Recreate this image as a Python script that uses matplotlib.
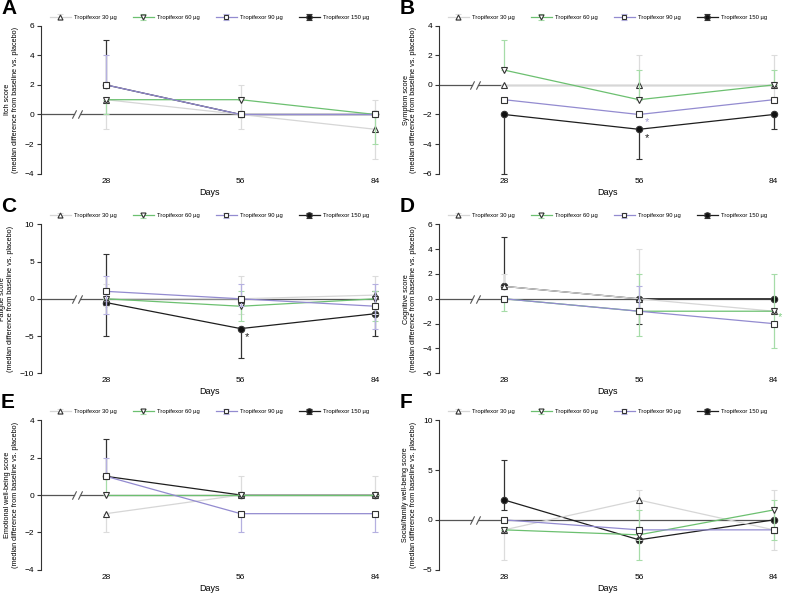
import numpy as np
import matplotlib
matplotlib.use('Agg')
import matplotlib.pyplot as plt

plt.rcParams['font.family'] = ['Liberation Sans', 'DejaVu Sans']

# data (median difference from baseline vs. placebo), order: 30, 60, 90, 150 ug
days = [28, 56, 84]
doses = ['Tropifexor 30 µg', 'Tropifexor 60 µg', 'Tropifexor 90 µg', 'Tropifexor 150 µg']

itch_med = [[1, 0, -1], [1, 1, 0], [2, 0, 0], [2, 0, 0]]
itch_lo = [[-1, -1, -3], [0, 1, -2], [2, 0, 0], [2, 0, 0]]
itch_hi = [[1, 2, 1], [1, 1, 0], [4, 0, 0], [5, 0, 0]]

symptom_med = [[0, 0, 0], [1, -1, 0], [-1, -2, -1], [-2, -3, -2]]
symptom_lo = [[0, -1, -1], [1, -1, 0], [-1, -2, -1], [-6, -5, -3]]
symptom_hi = [[0, 2, 2], [3, 1, 1], [-1, -2, -1], [-2, -3, -2]]

fatigue_med = [[0, 0, 0.5], [0, -1, 0], [1, 0, -1], [-0.5, -4, -2]]
fatigue_lo = [[-1, -2, -2], [0, -3, -3], [-2, -1, -4], [-5, -8, -5]]
fatigue_hi = [[2, 3, 3], [0, 1, 1], [3, 2, 2], [6, -4, 1]]

cognitive_med = [[1, 0, -1], [0, -1, -1], [0, -1, -2], [1, 0, 0]]
cognitive_lo = [[1, -1, -1], [-1, -3, -4], [0, -1, -2], [1, -2, 0]]
cognitive_hi = [[2, 4, -1], [0, 2, 2], [0, 1, -2], [5, 0, 0]]

emotional_med = [[-1, 0, 0], [0, 0, 0], [1, -1, -1], [1, 0, 0]]
emotional_lo = [[-2, 0, 0], [0, 0, 0], [1, -2, -2], [1, 0, 0]]
emotional_hi = [[-1, 1, 1], [1, 0, 0], [2, -1, -1], [3, 0, 0]]

social_med = [[-1, 2, -1], [-1, -1.5, 1], [0, -1, -1], [2, -2, 0]]
social_lo = [[-4, -2, -3], [-1, -4, -2], [0, -1, -1], [1, -2, 0]]
social_hi = [[-1, 3, 3], [-1, 1, 2], [0, -1, -1], [6, -2, 0]]

# styles
line_cols = ['#d6d6d6', '#6cc070', '#938bd0', '#1e1e1e']
err_cols = ['#dcdcdc', '#a6dca8', '#b5b0e0', '#333333']
star_cols = ['#bbbbbb', '#7fcf82', '#a59ed8', '#1e1e1e']
markers = ['^', 'v', 's', 'o']
faces = ['white', 'white', 'white', '#111111']
msizes = [4.2, 4.2, 4.2, 4.6]
zorders = [3, 4, 5, 2]

panels = [
    ('A', 'Itch score', itch_med, itch_lo, itch_hi, (-4, 6), 2),
    ('B', 'Symptom score', symptom_med, symptom_lo, symptom_hi, (-6, 4), 2),
    ('C', 'Fatigue score', fatigue_med, fatigue_lo, fatigue_hi, (-10, 10), 5),
    ('D', 'Cognitive score', cognitive_med, cognitive_lo, cognitive_hi, (-6, 6), 2),
    ('E', 'Emotional well-being score', emotional_med, emotional_lo, emotional_hi, (-4, 4), 2),
    ('F', 'Social/family well-being score', social_med, social_lo, social_hi, (-5, 10), 5),
]

# asterisks: panel -> list of (dose index, x, y)
stars = {
    'B': [(2, 57.6, -2.5), (3, 57.6, -3.6)],
    'C': [(3, 57.3, -5.1)],
    'D': [(1, 85.3, -1.5)],
}

fig = plt.figure(figsize=(7.87, 5.94), dpi=100)

W, H = 787, 594
lefts = [41, 439.3]
rows = [(25.7, 173.7), (224.3, 373.3), (420.3, 569.7)]
ax_w = 336.8

xmin, xmax = 14.5, 84.5
brk1, brk2 = 21.3, 22.6

for i, (letter, ylab, med, lo, hi, ylim, step) in enumerate(panels):
    r, c = divmod(i, 2)
    top, bot = rows[r]
    ax = fig.add_axes([lefts[c] / W, (H - bot) / H, ax_w / W, (bot - top) / H])

    # zero line with axis break
    ax.plot([xmin, brk1], [0, 0], color='#555555', lw=0.9, zorder=1, clip_on=False)
    ax.plot([brk2, xmax], [0, 0], color='#555555', lw=0.9, zorder=1, clip_on=False)
    ax.plot([brk1, brk2], [0, 0], ls='none', marker=[(-1, -2), (1, 2)], ms=6,
            mec='#555555', mew=0.8, zorder=1)

    handles = [None] * 4
    for k in range(4):
        y = np.array(med[k], dtype=float)
        yerr = [y - np.array(lo[k]), np.array(hi[k]) - y]
        eb = ax.errorbar(days, y, yerr=yerr, color=line_cols[k], lw=0.9,
                         ecolor=err_cols[k], elinewidth=0.9, capsize=2, capthick=0.9,
                         marker=markers[k], ms=msizes[k], mfc=faces[k], mec='#333333',
                         mew=0.8, zorder=zorders[k], clip_on=False)
        handles[k] = eb

    for k, xs, ys in stars.get(letter, []):
        ax.text(xs, ys, '*', color=star_cols[k], fontsize=8,
                ha='center', va='center', clip_on=False)

    ax.set_xlim(xmin, xmax)
    ax.set_ylim(*ylim)
    ax.set_yticks(np.arange(ylim[0], ylim[1] + 0.1, step))
    ax.set_xticks(days)
    ax.tick_params(axis='x', length=0, pad=3, labelsize=6)
    ax.tick_params(axis='y', length=3, width=0.8, pad=2, labelsize=6, color='#333333')
    for s in ['top', 'right', 'bottom']:
        ax.spines[s].set_visible(False)
    ax.spines['left'].set_linewidth(0.8)
    ax.spines['left'].set_color('#333333')
    ax.set_xlabel('Days', fontsize=6.5, labelpad=2)
    ax.set_ylabel(ylab + '\n(median difference from baseline vs. placebo)', fontsize=5.2,
                  labelpad=4, linespacing=1.15)

    ax.legend(handles, doses, loc='lower center', bbox_to_anchor=(0.5, 1.0), ncol=4,
              frameon=False, fontsize=4.2, handlelength=3.6, handletextpad=0.6,
              columnspacing=2.7, borderaxespad=0.6, markerscale=0.85)

    fig.text((lefts[c] - 41 + 1) / W, 1 - (top - 27) / H, letter, fontsize=15,
             fontweight='bold', va='top', ha='left')

fig.savefig('out.png', dpi=100)
